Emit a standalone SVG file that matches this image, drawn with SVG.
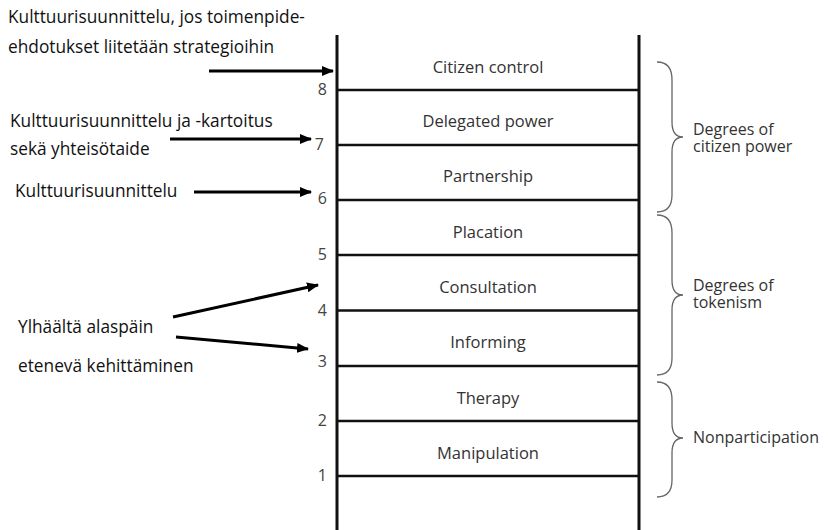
<svg xmlns="http://www.w3.org/2000/svg" width="828" height="530" viewBox="0 0 828 530">
<style>
.rail{stroke:#111;stroke-width:3;fill:none}
.rung{stroke:#111;stroke-width:2.5;fill:none}
.lbl{font-family:"Open Sans","Noto Sans",sans-serif;font-size:16.5px;fill:#333;text-anchor:middle}
.num{font-family:"Open Sans","Noto Sans",sans-serif;font-size:16px;fill:#444;text-anchor:end}
.note{font-family:"Open Sans","Noto Sans",sans-serif;font-size:17.3px;fill:#111}
.grp{font-family:"Open Sans","Noto Sans",sans-serif;font-size:16px;fill:#333}
.brace{stroke:#666;stroke-width:1.3;fill:none}
.arr{stroke:#000;stroke-width:3;fill:none;marker-end:url(#ah)}
</style>
<defs>
<marker id="ah" markerUnits="userSpaceOnUse" markerWidth="12" markerHeight="10" refX="11" refY="5" orient="auto">
<path d="M0,0 L12,5 L0,10 Z" fill="#000"/>
</marker>
</defs>
<rect width="828" height="530" fill="#fff"/>
<g id="ladder">
<line class="rail" x1="337" y1="35" x2="337" y2="530"/>
<line class="rail" x1="639" y1="35" x2="639" y2="530"/>
<line class="rung" x1="337" y1="90" x2="639" y2="90"/>
<line class="rung" x1="337" y1="145" x2="639" y2="145"/>
<line class="rung" x1="337" y1="200" x2="639" y2="200"/>
<line class="rung" x1="337" y1="255" x2="639" y2="255"/>
<line class="rung" x1="337" y1="310.5" x2="639" y2="310.5"/>
<line class="rung" x1="337" y1="366" x2="639" y2="366"/>
<line class="rung" x1="337" y1="421" x2="639" y2="421"/>
<line class="rung" x1="337" y1="476" x2="639" y2="476"/>
</g>
<g id="rung8"><text class="lbl" x="488" y="73">Citizen control</text><text class="num" x="327" y="95">8</text></g>
<g id="rung7"><text class="lbl" x="488" y="127">Delegated power</text><text class="num" x="324" y="150">7</text></g>
<g id="rung6"><text class="lbl" x="488" y="182">Partnership</text><text class="num" x="327" y="204">6</text></g>
<g id="rung5"><text class="lbl" x="488" y="238">Placation</text><text class="num" x="327" y="260">5</text></g>
<g id="rung4"><text class="lbl" x="488" y="293">Consultation</text><text class="num" x="327" y="316">4</text></g>
<g id="rung3"><text class="lbl" x="488" y="348">Informing</text><text class="num" x="327" y="367">3</text></g>
<g id="rung2"><text class="lbl" x="488" y="404">Therapy</text><text class="num" x="327" y="426">2</text></g>
<g id="rung1"><text class="lbl" x="488" y="459">Manipulation</text><text class="num" x="327" y="481">1</text></g>
<g id="group-citizen-power">
<path class="brace" d="M657,62 Q672,62 672,80 L672,122 Q672,137 683,137 Q672,137 672,152 L672,195 Q672,212 657,212"/>
<text class="grp" x="693" y="135">Degrees of</text>
<text class="grp" x="693" y="152">citizen power</text>
</g>
<g id="group-tokenism">
<path class="brace" d="M657,215 Q672,215 672,233 L672,280 Q672,295 683,295 Q672,295 672,310 L672,358 Q672,375 657,375"/>
<text class="grp" x="693" y="291">Degrees of</text>
<text class="grp" x="693" y="308">tokenism</text>
</g>
<g id="group-nonparticipation">
<path class="brace" d="M657,382 Q672,382 672,400 L672,423 Q672,438 683,438 Q672,438 672,453 L672,480 Q672,497 657,497"/>
<text class="grp" x="693" y="443">Nonparticipation</text>
</g>
<g id="note-8"><text class="note" x="8" y="23">Kulttuurisuunnittelu, jos toimenpide-</text><text class="note" x="8" y="53">ehdotukset liitetään strategioihin</text></g>
<g id="note-7"><text class="note" x="10" y="127">Kulttuurisuunnittelu ja -kartoitus</text><text class="note" x="10" y="155">sekä yhteisötaide</text></g>
<g id="note-6"><text class="note" x="15" y="197">Kulttuurisuunnittelu</text></g>
<g id="note-34"><text class="note" x="18" y="333">Ylhäältä alaspäin</text><text class="note" x="18" y="372">etenevä kehittäminen</text></g>
<g id="connectors">
<line class="arr" x1="209" y1="71" x2="333" y2="71"/>
<line class="arr" x1="170" y1="139" x2="311" y2="139"/>
<line class="arr" x1="194" y1="192" x2="311" y2="192"/>
<line class="arr" x1="173" y1="317" x2="318" y2="285"/>
<line class="arr" x1="176" y1="337" x2="308" y2="349"/>
</g>
</svg>
